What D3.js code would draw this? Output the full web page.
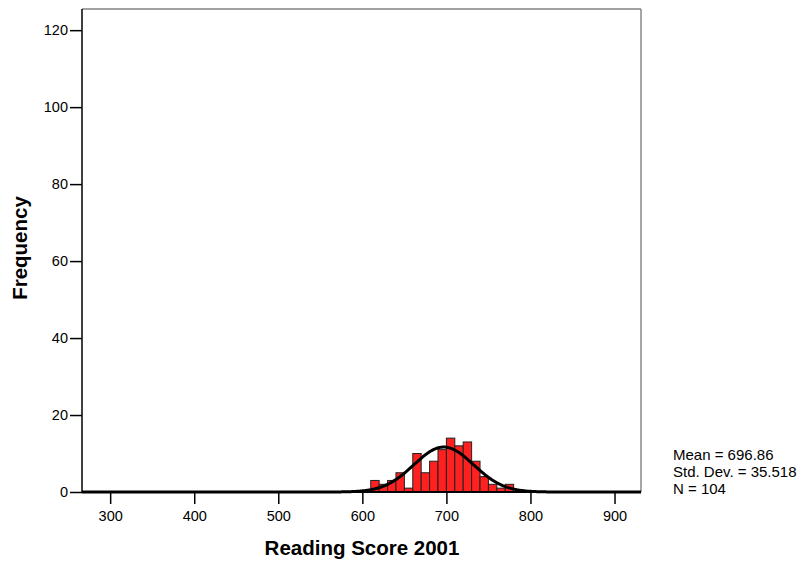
<!DOCTYPE html>
<html>
<head>
<meta charset="utf-8">
<script src="https://cdn.jsdelivr.net/npm/d3@7"></script>
<style>
  body { margin: 0; background: #fff; }
  text { font-family: "Liberation Sans", Arial, sans-serif; }
</style>
</head>
<body>
<svg id="chart" width="801" height="561"></svg>
<script>
// Histogram of reading scores, bin width 10
const binStarts = [610, 620, 630, 640, 650, 660, 670, 680, 690, 700, 710, 720, 730, 740, 750, 760, 770];
const binCounts = [3, 2, 3, 5, 1, 10, 5, 8, 11, 14, 12, 13, 8, 4, 2, 1, 2];
const binWidth = 10;
const xTicks = [300, 400, 500, 600, 700, 800, 900];
const yTicks = [0, 20, 40, 60, 80, 100, 120];
const statMean = 696.86;
const statSD = 35.518;
const statN = 104;
const statLines = ["Mean = 696.86", "Std. Dev. = 35.518", "N = 104"];

const svg = d3.select("#chart");
const plotLeft = 82, plotRight = 641, plotTop = 9, plotBottom = 492;

const x = d3.scaleLinear().domain([266.5, 931.5]).range([plotLeft, plotRight]);
const y = d3.scaleLinear().domain([0, 125.5]).range([plotBottom, plotTop]);

// frame (top and right edges)
svg.append("line").attr("x1", plotLeft).attr("x2", plotRight).attr("y1", plotTop).attr("y2", plotTop)
  .attr("stroke", "#444").attr("stroke-width", 1.2);
svg.append("line").attr("x1", plotRight).attr("x2", plotRight).attr("y1", plotTop).attr("y2", plotBottom)
  .attr("stroke", "#888").attr("stroke-width", 1.5);

// bars
svg.append("g").selectAll("rect")
  .data(binStarts.map((s, i) => ({ s, c: binCounts[i] })))
  .join("rect")
  .attr("x", d => x(d.s))
  .attr("width", d => x(d.s + binWidth) - x(d.s))
  .attr("y", d => y(d.c))
  .attr("height", d => y(0) - y(d.c))
  .attr("fill", "#ff2020")
  .attr("stroke", "#222")
  .attr("stroke-width", 1);

// normal curve
const peakScale = statN * binWidth / (statSD * Math.sqrt(2 * Math.PI));
const xs = d3.range(266.5, 931.6, 1);
const curve = d3.line()
  .x(v => x(v))
  .y(v => y(peakScale * Math.exp(-0.5 * Math.pow((v - statMean) / statSD, 2))));
svg.append("path").datum(xs).attr("d", curve)
  .attr("fill", "none").attr("stroke", "#000").attr("stroke-width", 3);

// axes
const yAxis = d3.axisLeft(y).tickValues(yTicks).tickSize(12).tickPadding(2).tickFormat(d3.format("d"));
const gy = svg.append("g").attr("transform", `translate(${plotLeft},0)`).call(yAxis);
gy.select(".domain").attr("stroke", "#000").attr("stroke-width", 1.5).attr("d", `M0,${plotTop}V${plotBottom}`);
gy.selectAll(".tick line").attr("stroke", "#000").attr("stroke-width", 1.5);
gy.selectAll(".tick text").attr("font-size", 14.5).attr("fill", "#000");

const xAxis = d3.axisBottom(x).tickValues(xTicks).tickSize(12).tickPadding(7).tickFormat(d3.format("d"));
const gx = svg.append("g").attr("transform", `translate(0,${plotBottom})`).call(xAxis);
gx.select(".domain").attr("stroke", "#000").attr("stroke-width", 2).attr("d", `M${plotLeft},0H${plotRight}`);
gx.selectAll(".tick line").attr("stroke", "#000").attr("stroke-width", 1.5);
gx.selectAll(".tick text").attr("font-size", 14.5).attr("fill", "#000");

// axis titles
svg.append("text").attr("x", 362).attr("y", 555).attr("text-anchor", "middle")
  .attr("font-size", 20.5).attr("font-weight", "bold").text("Reading Score 2001");
svg.append("text").attr("transform", "translate(27,248) rotate(-90)").attr("text-anchor", "middle")
  .attr("font-size", 20.5).attr("font-weight", "bold").text("Frequency");

// summary statistics
svg.append("g").selectAll("text").data(statLines).join("text")
  .attr("x", 673).attr("y", (d, i) => 459.5 + i * 17.3)
  .attr("font-size", 15).attr("fill", "#000").text(d => d);
</script>
</body>
</html>
